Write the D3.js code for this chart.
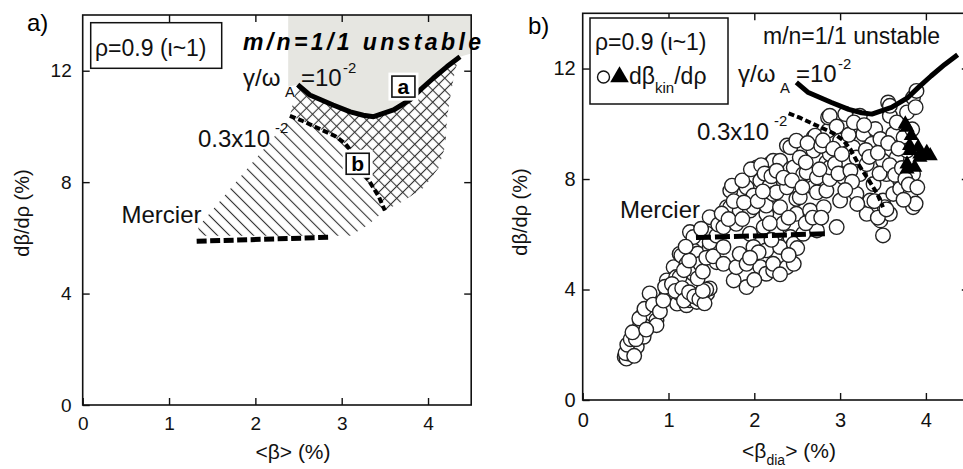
<!DOCTYPE html>
<html>
<head>
<meta charset="utf-8">
<script src="https://cdn.jsdelivr.net/npm/d3@7"></script>
<style>
  body { margin: 0; background: #fff; }
  svg { display: block; }
</style>
</head>
<body>
<svg id="fig" width="963" height="469"></svg>
<script>
// ---- data ----
const xTicks = [0, 1, 2, 3, 4];
const yTicks = [0, 4, 8, 12];
const xDomain = [0, 4.5];
const yDomain = [0, 14];

// growth-rate contour gamma/omega_A = 1e-2  (<beta>, dbeta/drho)
const contour1e2 = [[2.49,11.5],[2.63,11.13],[2.9,10.77],[3.1,10.52],[3.25,10.4],[3.37,10.35],
  [3.6,10.59],[3.79,10.95],[3.91,11.31],[4.06,11.73],[4.22,12.15],[4.37,12.5]];
// growth-rate contour gamma/omega_A = 0.3e-2
const contour3e3 = [[2.4,10.38],[2.53,10.22],[2.69,9.99],[2.92,9.66],[3.04,9.39],[3.12,9.08],
  [3.23,8.45],[3.33,7.98],[3.43,7.48],[3.5,6.98]];
// Mercier limit
const mercier = [[1.32,5.88],[2.1,5.95],[2.85,6.02]];

// region a): unstable shading, cross-hatched band, diagonal-hatched band
const unstableEdge = [[2.38,14],[4.5,14],[4.5,12.62],[4.37,12.5]];
const unstableCorner = [[2.49,11.5],[2.38,11.42]];
const crossEdge = [[4.32,12.1],[4.27,11.3],[4.22,10.3],[4.2,9.3],[4.12,8.5],[3.95,7.8],[3.7,7.3],[3.5,6.98]];
const diagEdge = [[3.5,6.98],[3.3,6.45],[3.1,6.08],[1.34,6.08],[1.34,6.4],[2.36,10.15]];

// b) measured kinetic pressure gradient: open circles and filled triangles
const kinCircles = [
  [0.49,1.56],[0.51,1.50],[0.53,1.68],[0.55,1.86],[0.57,1.80],[0.59,2.05],[0.63,1.93],[0.63,2.41],
  [0.67,2.65],[0.67,2.71],[0.70,3.07],[0.71,2.29],[0.75,2.89],[0.78,3.86],[0.80,3.13],[0.86,2.89],
  [0.86,2.71],[0.98,3.85],[0.98,4.33],[1.02,3.79],[1.06,4.81],[1.09,4.45],[1.10,3.49],[1.13,3.85],
  [1.13,4.45],[1.13,5.29],[1.15,5.23],[1.21,3.43],[1.21,4.93],[1.25,3.61],[1.25,6.08],[1.29,4.57],
  [1.29,4.75],[1.29,5.42],[1.29,5.90],[1.33,3.55],[1.34,5.30],[1.37,3.85],[1.37,4.93],[1.41,3.79],
  [1.45,3.85],[1.45,6.02],[1.48,4.04],[1.48,5.54],[1.48,5.71],[1.48,6.62],[1.56,4.99],
  [0.50,1.70],[0.52,2.00],[0.56,2.20],[0.60,1.60],[0.62,2.20],[0.58,2.45],[0.66,2.95],[0.72,3.30],
  [0.74,2.55],[0.82,3.45],[0.90,3.20],[0.94,3.60],[0.96,4.10],[1.04,4.20],[1.08,3.95],[1.16,4.05],
  [1.18,3.60],[1.24,3.90],[1.30,3.75],[1.36,3.65],[1.42,3.50],[1.44,4.00],[1.40,3.95],[1.18,4.70],
  [1.24,5.05],[1.34,4.40],[1.40,4.65],[1.44,5.15],[1.52,5.20],[1.56,5.95],[1.58,6.35],[1.20,5.55],
  [1.38,6.20],
  [1.64,4.93],[1.64,5.54],[1.64,6.26],[1.68,6.98],[1.72,7.58],[1.72,6.98],[1.74,7.76],[1.76,4.33],
  [1.79,4.81],[1.79,6.38],[1.83,5.29],[1.83,6.86],[1.91,4.09],[1.91,4.93],[1.91,7.70],[1.95,6.02],
  [1.95,6.86],[1.99,5.54],[1.99,6.98],[1.99,7.40],[2.03,8.42],[2.07,4.81],[2.07,7.94],[2.11,6.26],
  [2.14,4.57],[2.14,5.42],[2.14,6.74],[2.14,7.04],[2.18,7.76],[2.18,8.54],[2.22,4.69],[2.22,4.93],
  [2.22,7.46],[2.22,8.66],[2.26,6.02],[2.26,7.52],[2.30,5.54],[2.30,6.98],[2.30,8.66],[2.38,4.81],
  [2.38,7.70],[2.38,9.21],[2.42,5.90],[2.42,8.36],[2.42,9.15],[2.46,4.93],[2.46,5.66],[2.46,8.42],
  [2.49,6.74],[2.49,7.28],[2.49,9.39],[2.53,7.34],[2.53,8.78],[2.57,6.02],[2.57,8.18],[2.61,8.24],
  [2.65,6.86],[2.69,7.70],[2.69,9.03],[2.69,9.51],[2.71,9.57],[2.73,6.14],[2.73,7.52],[2.73,8.06],
  [2.81,6.98],[2.84,7.58],[2.84,8.60],[2.86,9.75],[2.86,10.23],[2.88,8.00],[2.88,8.42],[2.88,8.90],
  [2.88,10.29],[2.96,6.26],[3.00,7.22],[3.00,9.39],[3.04,8.06],[3.06,10.35],[3.08,8.66],[3.15,9.15],
  [3.19,7.46],[3.19,8.78],[3.23,8.18],[3.23,10.29],[3.27,9.63],[3.31,6.74],[3.31,8.54],[3.35,7.22],
  [3.37,9.27],[3.39,7.82],[3.41,9.81],[3.47,6.50],[3.47,9.45],[3.50,5.96],[3.50,7.22],[3.50,8.66],
  [3.52,6.98],[3.54,8.18],[3.56,10.77],[3.58,6.74],[3.58,10.29],[3.58,10.65],[3.62,7.46],[3.62,9.63],
  [3.66,8.78],[3.70,7.94],[3.70,7.65],[3.74,9.51],[3.78,9.03],[3.78,10.41],[3.82,7.46],[3.85,6.98],
  [3.85,8.18],[3.85,10.95],[3.88,7.11],[3.89,11.19],
  [1.62,6.75],[1.70,6.55],[1.76,7.20],[1.86,6.55],[1.88,7.15],[1.86,7.95],[1.96,8.35],[2.04,7.20],
  [2.10,7.55],[2.08,8.50],[2.12,8.20],[2.20,8.10],[2.26,8.30],[2.34,8.05],[2.34,6.40],[2.40,6.60],
  [2.44,7.95],[2.56,7.70],[2.60,8.60],[2.62,9.30],[2.76,8.35],[2.78,9.20],[2.80,9.40],[2.92,9.10],
  [2.94,8.55],[2.96,9.90],[2.98,8.20],[3.02,8.90],[3.10,9.60],[3.12,8.30],[3.14,7.90],[3.16,10.05],
  [3.28,9.95],[3.30,9.05],[3.34,8.80],[3.44,8.95],[3.46,8.20],[3.56,9.30],[3.58,8.50],[3.64,8.15],
  [3.66,10.05],[3.68,9.10],[3.72,8.40],[3.74,7.25],[3.76,8.00],[3.80,7.80],[3.84,9.80],[3.88,10.60],
  [3.90,7.70],[2.50,5.50],[2.60,6.40],[2.68,6.60],[2.20,5.80],[2.05,5.35],[1.95,5.15],[2.40,5.25],
  [2.30,4.55],[2.00,4.35],[2.18,6.40],[2.78,6.60],[3.06,7.60],[3.20,7.10],[3.40,7.20],[3.44,6.60],
  [3.54,6.90]
];
const kinTriangles = [
  [3.76,9.99],[3.78,9.87],[3.83,9.57],[3.81,9.21],[3.91,9.15],[3.82,9.03],[3.93,8.90],
  [4.01,8.96],[4.05,8.84],[3.93,8.78],[3.78,8.54],[3.87,8.42],[3.78,8.36]
];

// ---- drawing ----
const FONT = '"Liberation Sans", Arial, Helvetica, sans-serif';
const svg = d3.select("#fig");
const defs = svg.append("defs");

const diag = defs.append("pattern").attr("id", "hatchDiag")
  .attr("patternUnits", "userSpaceOnUse").attr("width", 8.5).attr("height", 8.5)
  .attr("patternTransform", "rotate(-45)");
diag.append("line").attr("x1", 4.25).attr("y1", 0).attr("x2", 4.25).attr("y2", 8.5)
  .attr("stroke", "#333").attr("stroke-width", 1.1);

const cross = defs.append("pattern").attr("id", "hatchCross")
  .attr("patternUnits", "userSpaceOnUse").attr("width", 8.5).attr("height", 8.5)
  .attr("patternTransform", "rotate(45)");
cross.append("line").attr("x1", 4.25).attr("y1", 0).attr("x2", 4.25).attr("y2", 8.5)
  .attr("stroke", "#333").attr("stroke-width", 1.1);
cross.append("line").attr("x1", 0).attr("y1", 4.25).attr("x2", 8.5).attr("y2", 4.25)
  .attr("stroke", "#333").attr("stroke-width", 1.1);

function makePanel(box) {
  const x = d3.scaleLinear().domain(xDomain).range([box.left, box.right]);
  const y = d3.scaleLinear().domain(yDomain).range([box.bottom, box.top]);
  const g = svg.append("g");
  return { x, y, g, box };
}

function drawAxes(p, opt) {
  const { x, y, g, box } = p;
  const ax = g.append("g").attr("font-family", FONT);
  const bottom = ax.append("g").attr("transform", `translate(0,${box.bottom})`)
    .call(d3.axisBottom(x).tickValues(xTicks).tickFormat(d3.format("d"))
      .tickSizeInner(-7).tickSizeOuter(0).tickPadding(opt.xPad));
  const left = ax.append("g").attr("transform", `translate(${box.left},0)`)
    .call(d3.axisLeft(y).tickValues(yTicks).tickFormat(d3.format("d"))
      .tickSizeInner(-7).tickSizeOuter(0).tickPadding(opt.yPad));
  const top = ax.append("g").attr("transform", `translate(0,${box.top})`)
    .call(d3.axisTop(x).tickValues(xTicks.slice(1)).tickFormat("").tickSizeInner(-7).tickSizeOuter(0));
  const right = ax.append("g").attr("transform", `translate(${box.right},0)`)
    .call(d3.axisRight(y).tickValues(yTicks.slice(1)).tickFormat("").tickSizeInner(-7).tickSizeOuter(0));
  [bottom, left, top, right].forEach(a => {
    a.select(".domain").remove();
    a.selectAll(".tick line").attr("stroke", "#111").attr("stroke-width", 1.4);
    a.selectAll("text").attr("font-size", opt.tickSize).attr("fill", "#111").attr("font-family", FONT);
  });
  ax.append("rect").attr("x", box.left).attr("y", box.top)
    .attr("width", box.right - box.left).attr("height", box.bottom - box.top)
    .attr("fill", "none").attr("stroke", "#111").attr("stroke-width", 1.6);
}

function drawCurves(p, style) {
  const { x, y, g } = p;
  const line = d3.line().x(d => x(d[0])).y(d => y(d[1])).curve(d3.curveLinear);
  g.append("path").attr("d", line(contour3e3)).attr("fill", "none").attr("stroke", "#000")
    .attr("stroke-width", 4).attr("stroke-dasharray", style.dotDash);
  g.append("path").attr("d", line(mercier)).attr("fill", "none").attr("stroke", "#000")
    .attr("stroke-width", 5).attr("stroke-dasharray", style.mercierDash);
  g.append("path").attr("d", line(contour1e2)).attr("fill", "none").attr("stroke", "#000")
    .attr("stroke-width", 5).attr("stroke-linejoin", "round");
}

function growthLabel(p, gx, gy, size) {
  const { g } = p;
  const t = g.append("g").attr("font-family", FONT).attr("fill", "#111");
  t.append("text").attr("x", gx).attr("y", gy).attr("font-size", size).text("γ/ω");
  t.append("text").attr("x", gx + 42).attr("y", gy + 11).attr("font-size", size * 0.62).text("A");
  t.append("text").attr("x", gx + 58).attr("y", gy).attr("font-size", size).text("=10");
  t.append("text").attr("x", gx + 100).attr("y", gy - 13).attr("font-size", size * 0.62).text("-2");
}

function smallLabels(p, s) {
  const { g } = p;
  const t = g.append("g").attr("font-family", FONT).attr("fill", "#111");
  t.append("text").attr("x", s.cx).attr("y", s.cy).attr("font-size", s.size).text("0.3x10");
  t.append("text").attr("x", s.cx + 77).attr("y", s.cy - 14).attr("font-size", s.size * 0.62).text("-2");
  t.append("text").attr("x", s.mx).attr("y", s.my).attr("font-size", s.size).text("Mercier");
}

// ================= panel a =================
const pa = makePanel({ left: 82.7, right: 471.2, top: 15, bottom: 405 });
{
  const { x, y, g } = pa;
  const area = d3.line().x(d => x(d[0])).y(d => y(d[1]));
  // unstable region above the 1e-2 contour
  const grey = unstableEdge.concat(contour1e2.slice().reverse(), unstableCorner);
  g.append("path").attr("d", area(grey) + "Z").attr("fill", "#e6e6e1");
  // cross-hatched band between the two contours
  const crossPoly = contour1e2.concat(crossEdge, contour3e3.slice().reverse());
  g.append("path").attr("d", area(crossPoly) + "Z").attr("fill", "url(#hatchCross)");
  // diagonal-hatched band between Mercier and the 0.3e-2 contour
  const diagPoly = contour3e3.concat(diagEdge.slice(1));
  g.append("path").attr("d", area(diagPoly) + "Z").attr("fill", "url(#hatchDiag)");
}
drawAxes(pa, { xPad: 12, yPad: 11, tickSize: 19 });
drawCurves(pa, { dotDash: "6,3", mercierDash: "10,3.5" });
{
  const { x, y, g } = pa;
  // state labels on the contours
  [["a", 3.715, 11.43], ["b", 3.185, 8.66]].forEach(([lab, bx, by]) => {
    const cx = x(bx), cy = y(by);
    g.append("rect").attr("x", cx - 15).attr("y", cy - 14).attr("width", 30).attr("height", 28).attr("fill", "#fff");
    g.append("rect").attr("x", cx - 11.5).attr("y", cy - 10.5).attr("width", 23).attr("height", 21)
      .attr("fill", "#fff").attr("stroke", "#111").attr("stroke-width", 1.6);
    g.append("text").attr("x", cx).attr("y", cy + 7).attr("text-anchor", "middle")
      .attr("font-family", FONT).attr("font-weight", "bold").attr("font-size", 21).text(lab);
  });
  // legend box
  g.append("rect").attr("x", 90.7).attr("y", 22.7).attr("width", 131).attr("height", 45.6)
    .attr("fill", "#fff").attr("stroke", "#111").attr("stroke-width", 1.5);
  g.append("text").attr("x", 95).attr("y", 56).attr("font-family", FONT).attr("font-size", 23)
    .attr("fill", "#111").text("ρ=0.9 (ι~1)");
  g.append("text").attr("x", 243).attr("y", 50).attr("font-family", FONT).attr("font-size", 23)
    .attr("font-weight", "bold").attr("font-style", "italic").attr("textLength", 238)
    .attr("lengthAdjust", "spacing").attr("fill", "#000").text("m/n=1/1 unstable");
  growthLabel(pa, 243, 86, 24);
  smallLabels(pa, { cx: 198, cy: 147, mx: 121.5, my: 223, size: 24 });
  // titles
  g.append("text").attr("x", 27).attr("y", 31).attr("font-family", FONT).attr("font-size", 24).text("a)");
  g.append("text").attr("transform", "translate(29,213) rotate(-90)").attr("text-anchor", "middle")
    .attr("font-family", FONT).attr("font-size", 20).attr("fill", "#111").text("dβ/dρ (%)");
  g.append("text").attr("x", 293).attr("y", 459).attr("text-anchor", "middle")
    .attr("font-family", FONT).attr("font-size", 21).attr("fill", "#111").text("<β> (%)");
}

// ================= panel b =================
const pb = makePanel({ left: 582.7, right: 968.8, top: 13.3, bottom: 400 });
{
  const { x, y, g } = pb;
  g.append("g").selectAll("circle").data(kinCircles).join("circle")
    .attr("cx", d => x(d[0])).attr("cy", d => y(d[1])).attr("r", 7.3)
    .attr("fill", "#fff").attr("stroke", "#222").attr("stroke-width", 1.4);
  const tri = d3.symbol().type(d3.symbolTriangle).size(100);
  g.append("g").selectAll("path").data(kinTriangles).join("path")
    .attr("transform", d => `translate(${x(d[0])},${y(d[1])})`).attr("d", tri).attr("fill", "#000");
}
drawAxes(pb, { xPad: 13, yPad: 7, tickSize: 20 });
drawCurves(pb, { dotDash: "6,3", mercierDash: "15,4" });
{
  const { x, y, g } = pb;
  // legend box
  g.append("rect").attr("x", 590).attr("y", 18).attr("width", 138).attr("height", 86)
    .attr("fill", "#fff").attr("stroke", "#111").attr("stroke-width", 1.5);
  g.append("text").attr("x", 595).attr("y", 50).attr("font-family", FONT).attr("font-size", 23)
    .attr("fill", "#111").text("ρ=0.9 (ι~1)");
  g.append("circle").attr("cx", 603.5).attr("cy", 77).attr("r", 6).attr("fill", "#fff")
    .attr("stroke", "#111").attr("stroke-width", 1.4);
  g.append("path").attr("transform", "translate(619.5,77)").attr("d", d3.symbol().type(d3.symbolTriangle).size(150)).attr("fill", "#000");
  const lt = g.append("text").attr("x", 629).attr("y", 84).attr("font-family", FONT)
    .attr("font-size", 23).attr("fill", "#111");
  lt.append("tspan").text("dβ");
  lt.append("tspan").attr("font-size", 15).attr("dy", 9).text("kin");
  lt.append("tspan").attr("dy", -9).text("/dρ");
  g.append("text").attr("x", 763).attr("y", 44).attr("font-family", FONT).attr("font-size", 23)
    .attr("fill", "#111").text("m/n=1/1 unstable");
  growthLabel(pb, 738, 82, 24);
  smallLabels(pb, { cx: 697, cy: 140, mx: 620, my: 218, size: 24 });
  g.append("text").attr("x", 528).attr("y", 34).attr("font-family", FONT).attr("font-size", 24).text("b)");
  g.append("text").attr("transform", "translate(527,212) rotate(-90)").attr("text-anchor", "middle")
    .attr("font-family", FONT).attr("font-size", 20).attr("fill", "#111").text("dβ/dρ (%)");
  const xl = g.append("text").attr("x", 789).attr("y", 458).attr("text-anchor", "middle")
    .attr("font-family", FONT).attr("font-size", 21).attr("fill", "#111");
  xl.append("tspan").text("<β");
  xl.append("tspan").attr("font-size", 14).attr("dy", 7).text("dia");
  xl.append("tspan").attr("dy", -7).text("> (%)");
}
</script>
</body>
</html>
